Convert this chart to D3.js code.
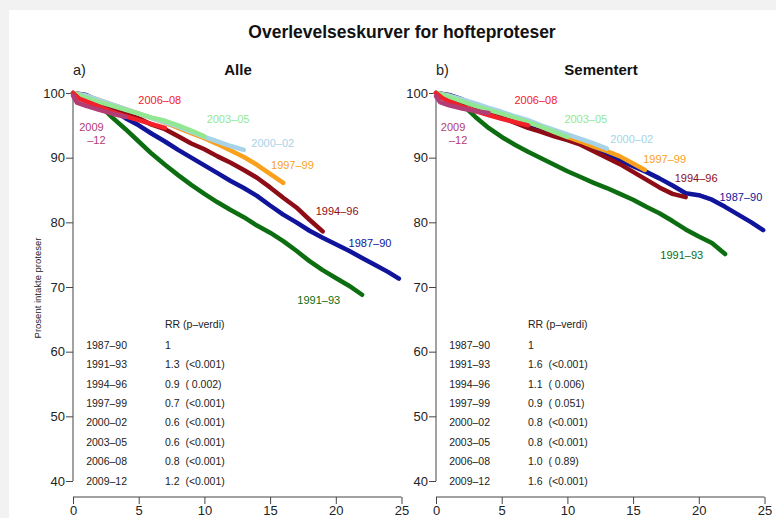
<!DOCTYPE html>
<html>
<head>
<meta charset="utf-8">
<script src="https://cdn.jsdelivr.net/npm/d3@7"></script>
<style>
  body { margin: 0; background: #f2f2f2; }
  svg { display: block; font-family: "Liberation Sans", Arial, sans-serif; }
</style>
</head>
<body>
<div id="chart"></div>
<script>
// periods (same order in both panels)
const periods = ["1987–90", "1991–93", "1994–96", "1997–99", "2000–02", "2003–05", "2006–08", "2009–12"];
const periodColors = ["#10149a", "#0c6e10", "#8e0c16", "#f9a11c", "#a7d3e8", "#92e892", "#f3202a", "#b23c74"];

// Alle - [years, percent intact]
const alle1987_90 = [[0,100],[1,99.7],[2,98.7],[3,97.4],[4,96.1],[5,95],[6,93.7],[7,92.5],[8,91.2],[9,90],[10,88.8],[11,87.6],[12,86.4],[13,85.3],[14,84.1],[15,82.6],[16,81.2],[17,80],[18,78.7],[19,77.6],[20,76.6],[21,75.6],[22,74.5],[23,73.4],[24,72.3],[24.8,71.3]];
const alle1991_93 = [[0,100],[1,99.5],[2,98.2],[3,96.2],[4,94.4],[5,92.5],[6,90.6],[7,88.9],[8,87.3],[9,85.8],[10,84.4],[11,83.1],[12,81.9],[13,80.8],[14,79.5],[15,78.4],[16,77.1],[17,75.6],[18,74],[19,72.6],[20,71.4],[21,70.2],[22,68.8]];
const alle1994_96 = [[0,100],[1,99.5],[2,98.7],[3,97.8],[4,97],[5,96.1],[6,95.1],[7,94.4],[8,93.3],[9,92.2],[10,91.3],[11,90.2],[12,89.2],[13,88.1],[14,86.9],[15,85.4],[16,83.8],[17,82.3],[18,80.4],[19,78.6]];
const alle1997_99 = [[0,100],[1,99.6],[2,98.9],[3,98.2],[4,97.5],[5,96.8],[6,96.1],[7,95.4],[8,94.6],[9,93.8],[10,93],[11,92.1],[12,91.1],[13,90.1],[14,88.9],[15,87.5],[16,86.1]];
const alle2000_02 = [[0,100],[1,99.6],[2,98.9],[3,98.2],[4,97.5],[5,96.8],[6,96.1],[7,95.5],[8,94.8],[9,94],[10,93.2],[11,92.5],[12,91.8],[13,91.2]];
const alle2003_05 = [[0,100],[1,99.3],[2,98.6],[3,98],[4,97.4],[5,96.8],[6,96.2],[7,95.7],[8,95],[9,94.2],[10,93.3]];
const alle2006_08 = [[0,100],[0.5,99.1],[1,98.7],[2,97.9],[3,97.1],[4,96.4],[5,95.8],[6,95.2],[7,94.6]];
const alle2009_12 = [[0,99.6],[0.3,98.5],[1,98],[2,97.4],[3,96.8],[4,96.3]];

// Sementert
const sem1987_90 = [[0,100],[1,99.7],[2,99],[3,98.1],[4,97.2],[5,96.4],[6,95.5],[7,94.8],[8,94.1],[9,93.4],[10,92.9],[11,92.3],[12,91.5],[13,90.5],[14,89.6],[15,88.7],[16,87.8],[17,86.8],[18,85.7],[19,84.5],[20,84.2],[21,83.5],[22,82.4],[23,81.2],[24,80],[24.9,78.8]];
const sem1991_93 = [[0,100],[1,99.6],[2,98.2],[3,96.3],[4,94.6],[5,93.2],[6,92],[7,90.9],[8,89.9],[9,88.9],[10,87.9],[11,87],[12,86.1],[13,85.3],[14,84.4],[15,83.5],[16,82.4],[17,81.4],[18,80.2],[19,78.9],[20,77.8],[21,76.8],[22,75.1]];
const sem1994_96 = [[0,100],[1,99.4],[2,98.7],[3,97.9],[4,97.1],[5,96.3],[6,95.4],[7,94.6],[8,94],[9,93.3],[10,92.7],[11,92],[12,91],[13,90],[14,89],[15,87.8],[16,86.6],[17,85.4],[18,84.4],[19,83.9]];
const sem1997_99 = [[0,100],[1,99.6],[2,98.9],[3,98.2],[4,97.5],[5,96.9],[6,96.2],[7,95.5],[8,94.8],[9,94],[10,93.2],[11,92.5],[12,91.7],[13,91],[14,90.2],[15,89.1],[15.9,88.1]];
const sem2000_02 = [[0,100],[1,99.6],[2,99],[3,98.4],[4,97.7],[5,97.1],[6,96.4],[7,95.8],[8,95],[9,94.3],[10,93.6],[11,92.9],[12,92.2],[13,91.4]];
const sem2003_05 = [[0,100],[1,99.4],[2,98.7],[3,98],[4,97.4],[5,96.8],[6,96.2],[7,95.5],[8,94.8],[9,94],[10,93.2]];
const sem2006_08 = [[0,100],[0.5,99.2],[1,98.7],[2,97.9],[3,97.2],[4,96.6],[5,96],[6,95.5],[7,95]];
const sem2009_12 = [[0,99.5],[0.3,98.6],[1,98.1],[2,97.6],[3,97.2],[4,96.9]];

// relative risk table texts
const rrAlle = ["1", "1.3  (<0.001)", "0.9  ( 0.002)", "0.7  (<0.001)", "0.6  (<0.001)", "0.6  (<0.001)", "0.8  (<0.001)", "1.2  (<0.001)"];
const rrSement = ["1", "1.6  (<0.001)", "1.1  ( 0.006)", "0.9  ( 0.051)", "0.8  (<0.001)", "0.8  (<0.001)", "1.0  ( 0.89)", "1.6  (<0.001)"];

const xTicks = [0, 5, 10, 15, 20, 25];
const yTicks = [40, 50, 60, 70, 80, 90, 100];

// curve label anchors (data coords)
const labelsAlle = [[22.6,76.8],[18.7,68],[20.1,81.8],[16.7,88.9],[15.2,92.3],[11.8,96],[6.6,98.9],[1.4,94.7]];
const labelsSem = [[23.2,83.9],[18.7,75],[19.8,86.9],[17.4,89.8],[14.9,92.9],[11.4,96],[7.6,98.9],[1.3,94.7]];

const W = 776, H = 518;

const svg = d3.select("#chart")
    .append("svg")
    .attr("width", W)
    .attr("height", H);

svg.append("rect")
    .attr("x", 9).attr("y", 10)
    .attr("width", W - 9).attr("height", H - 10)
    .attr("fill", "#ffffff");

svg.append("text")
    .attr("x", 402).attr("y", 38)
    .attr("text-anchor", "middle")
    .attr("font-size", 17.5)
    .attr("font-weight", "bold")
    .attr("fill", "#111")
    .text("Overlevelseskurver for hofteproteser");

svg.append("text")
    .attr("transform", "translate(41,288) rotate(-90)")
    .attr("text-anchor", "middle")
    .attr("font-size", 9.5)
    .attr("fill", "#222")
    .text("Prosent intakte proteser");

const drawPanel = (props) => {
    const { left, tag, title, series, rr, labels } = props;

    const xScale = d3.scaleLinear().domain([0, 25]).range([left, left + 328.5]);
    const yScale = d3.scaleLinear().domain([40, 100]).range([481, 93]);

    const g = svg.append("g");

    // y axis (R style: detached)
    const yAxis = g.append("g")
        .attr("transform", "translate(" + left + ",0)")
        .call(d3.axisLeft(yScale).tickValues(yTicks).tickSize(7).tickPadding(1));
    yAxis.select(".domain").attr("d", "M0," + yScale(40) + "V" + yScale(100));

    const xAxis = g.append("g")
        .attr("transform", "translate(0,497)")
        .call(d3.axisBottom(xScale).tickValues(xTicks).tickSize(7).tickPadding(2));
    xAxis.select(".domain").attr("d", "M" + xScale(0) + ",0H" + xScale(25));

    g.selectAll(".domain, .tick line").attr("stroke", "#444").attr("stroke-width", 1);
    g.selectAll(".tick text")
        .attr("font-size", 13)
        .attr("font-family", "'Liberation Sans', Arial, sans-serif")
        .attr("fill", "#222");

    g.append("text")
        .attr("x", left).attr("y", 75)
        .attr("font-size", 14.5)
        .attr("fill", "#222")
        .text(tag);

    g.append("text")
        .attr("x", left + 165).attr("y", 75)
        .attr("text-anchor", "middle")
        .attr("font-size", 15)
        .attr("font-weight", "bold")
        .attr("fill", "#111")
        .text(title);

    const line = d3.line()
        .x(d => xScale(d[0]))
        .y(d => yScale(d[1]));

    g.append("g")
        .selectAll("path")
        .data(series)
        .enter()
        .append("path")
        .attr("d", line)
        .attr("fill", "none")
        .attr("stroke", (d, i) => periodColors[i])
        .attr("stroke-width", 4.5)
        .attr("stroke-linejoin", "round")
        .attr("stroke-linecap", "round");

    // curve labels
    const lab = g.append("g")
        .selectAll("text")
        .data(labels)
        .enter()
        .append("text")
        .attr("x", d => xScale(d[0]))
        .attr("y", d => yScale(d[1]))
        .attr("dy", "0.35em")
        .attr("text-anchor", "middle")
        .attr("font-size", 11)
        .attr("fill", (d, i) => periodColors[i]);
    lab.filter((d, i) => i < 7).text((d, i) => periods[i]);
    lab.filter((d, i) => i === 7).each(function(d) {
        const t = d3.select(this);
        t.append("tspan").attr("x", xScale(d[0])).text("2009");
        t.append("tspan").attr("x", xScale(d[0]) + 5).attr("dy", "1.2em").text("–12");
    });

    // RR table
    const table = g.append("g").attr("font-size", 10.5).attr("fill", "#222");
    table.append("text")
        .attr("x", xScale(7)).attr("y", yScale(64.3))
        .attr("dy", "0.35em")
        .text("RR  (p–verdi)");
    table.selectAll(".per")
        .data(periods)
        .enter()
        .append("text")
        .attr("class", "per")
        .attr("x", xScale(1))
        .attr("y", (d, i) => yScale(61 - 3 * i))
        .attr("dy", "0.35em")
        .text(d => d);
    table.selectAll(".rr")
        .data(rr)
        .enter()
        .append("text")
        .attr("class", "rr")
        .attr("x", xScale(7))
        .attr("y", (d, i) => yScale(61 - 3 * i))
        .attr("dy", "0.35em")
        .attr("xml:space", "preserve")
        .style("white-space", "pre")
        .text(d => d);
};

drawPanel({
    left: 73, tag: "a)", title: "Alle",
    series: [alle1987_90, alle1991_93, alle1994_96, alle1997_99, alle2000_02, alle2003_05, alle2006_08, alle2009_12],
    rr: rrAlle, labels: labelsAlle
});

drawPanel({
    left: 436, tag: "b)", title: "Sementert",
    series: [sem1987_90, sem1991_93, sem1994_96, sem1997_99, sem2000_02, sem2003_05, sem2006_08, sem2009_12],
    rr: rrSement, labels: labelsSem
});
</script>
</body>
</html>
